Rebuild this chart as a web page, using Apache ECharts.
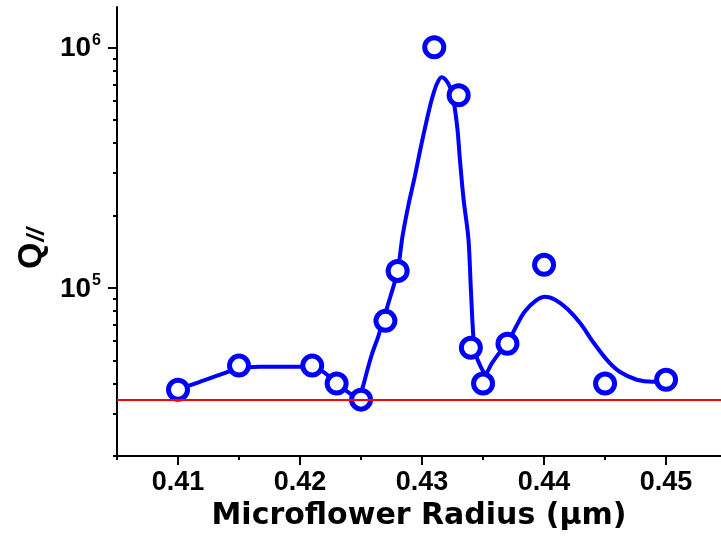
<!DOCTYPE html>
<html><head><meta charset="utf-8">
<script src="https://cdn.jsdelivr.net/npm/echarts@6/dist/echarts.min.js"></script>
<style>html,body{margin:0;padding:0;background:#fff}#c{width:721px;height:537px}</style>
</head><body><div id="c"></div>
<script>
const radius = [0.41,0.415,0.421,0.423,0.425,0.427,0.428,0.431,0.433,0.434,0.435,0.437,0.44,0.445,0.45];
const qValues = [37700,47500,47500,40000,34300,72900,117600,1000000,632000,56400,40000,58600,124600,40000,41500];
const fitRadius = [0.41,0.4118,0.4134,0.4149,0.4167,0.4192,0.421,0.4221,0.423,0.424,0.42475,0.4251,0.4255,0.4259,0.4264,0.4268,0.4274,0.428,0.4284,0.4289,0.4294,0.4299,0.4304,0.4308,0.4312,0.4316,0.4319,0.4323,0.4326,0.4329,0.4331,0.4334,0.4338,0.434,0.4342,0.4344,0.4348,0.4352,0.4357,0.4364,0.4371,0.4377,0.4384,0.4393,0.4401,0.4409,0.4419,0.443,0.444,0.4452,0.4462,0.4476,0.4489,0.45];
const fitQ = [37700,40700,43500,46100,47000,47000,47000,44000,40000,36700,34600,38100,45200,53200,62600,72900,91800,117600,164000,223000,289000,385000,502000,608000,702000,751000,736000,682000,591000,457000,343000,234000,160000,99000,63200,53200,47000,44000,48400,54300,60300,68900,79500,88300,91800,89200,81800,70900,59700,49800,44800,41500,40700,41100];
const threshold = 34300;
const xTickValues = [0.41,0.42,0.43,0.44,0.45];
const xMinorTickValues = [0.405,0.415,0.425,0.435,0.445];
const yTickValues = [100000,1000000];
const yMinorTickValues = [20000,30000,40000,50000,60000,70000,80000,90000,200000,300000,400000,500000,600000,700000,800000,900000];
const xTitle = 'Microflower Radius (\u03bcm)';

const FONT = "'Liberation Sans', Arial, sans-serif";
const X_MIN = 0.405, X_MAX = 0.4545, Y_MIN = 20000, Y_MAX = 1470000;
const axisColor = '#000';

const chart = echarts.init(document.getElementById('c'), null, {renderer: 'canvas'});
chart.setOption({
  animation: false,
  backgroundColor: '#fff',
  grid: {left: 117, right: 0, top: 7, bottom: 81, containLabel: false},
  xAxis: [{
    type: 'value', min: X_MIN, max: X_MAX, position: 'bottom',
    axisLine: {show: true, onZero: false, lineStyle: {color: axisColor, width: 2}},
    axisTick: {show: true, customValues: xTickValues, length: 9, lineStyle: {color: axisColor, width: 2}},
    axisLabel: {customValues: xTickValues, formatter: v => v.toFixed(2), fontSize: 27, fontWeight: 'bold', fontFamily: FONT, color: '#000', margin: 13},
    splitLine: {show: false},
    name: xTitle, nameLocation: 'middle', nameGap: 43,
    nameTextStyle: {fontSize: 30, fontWeight: 'bold', fontFamily: "'DejaVu Sans', sans-serif", color: '#000'}
  }, {
    type: 'value', min: X_MIN, max: X_MAX, position: 'bottom',
    axisLine: {show: false, onZero: false},
    axisTick: {show: true, customValues: xMinorTickValues, length: 4, lineStyle: {color: axisColor, width: 2}},
    axisLabel: {show: false},
    splitLine: {show: false}
  }],
  yAxis: [{
    type: 'log', logBase: 10, min: Y_MIN, max: Y_MAX, position: 'left',
    axisLine: {show: true, onZero: false, lineStyle: {color: axisColor, width: 2}},
    axisTick: {show: true, customValues: yTickValues, length: 9, lineStyle: {color: axisColor, width: 2}},
    axisLabel: {
      customValues: yTickValues, margin: 16, color: '#000',
      formatter: v => '{b|10}{s|' + Math.round(Math.log10(v)) + '}',
      rich: {
        b: {fontSize: 28, fontWeight: 'bold', fontFamily: FONT, color: '#000', verticalAlign: 'bottom', lineHeight: 30},
        s: {fontSize: 16, fontWeight: 'bold', fontFamily: FONT, color: '#000', verticalAlign: 'top', lineHeight: 16, padding: [0, 0, 0, 1]}
      }
    },
    splitLine: {show: false},
    name: '{q|Q}{s|//}', nameLocation: 'middle', nameRotate: 90, nameGap: 63,
    nameTextStyle: {
      padding: [0, 34, 0, 0],
      rich: {
        q: {fontSize: 34, fontWeight: 'bold', fontFamily: FONT, color: '#000', verticalAlign: 'top', lineHeight: 34},
        s: {fontSize: 24, fontWeight: 'bold', fontStyle: 'italic', fontFamily: FONT, color: '#000', verticalAlign: 'bottom', lineHeight: 24, padding: [9, 0, 0, 1]}
      }
    }
  }, {
    type: 'log', logBase: 10, min: Y_MIN, max: Y_MAX, position: 'left',
    axisLine: {show: false, onZero: false},
    axisTick: {show: true, customValues: yMinorTickValues, length: 4, lineStyle: {color: axisColor, width: 2}},
    axisLabel: {show: false},
    splitLine: {show: false}
  }],
  series: [{
    type: 'line', name: 'fit', xAxisIndex: 0, yAxisIndex: 0,
    data: fitRadius.map((x, i) => [x, fitQ[i]]),
    smooth: 0.3, showSymbol: false, symbol: 'none',
    lineStyle: {color: '#0000ff', width: 4}, z: 2
  }, {
    type: 'scatter', name: 'data', xAxisIndex: 0, yAxisIndex: 0,
    data: radius.map((x, i) => [x, qValues[i]]),
    symbol: 'circle', symbolSize: 19,
    itemStyle: {color: '#ffffff', borderColor: '#0000ff', borderWidth: 5, opacity: 1},
    z: 3,
    markLine: {
      silent: true, symbol: ['none', 'none'], label: {show: false},
      lineStyle: {color: '#ff0000', width: 2, type: 'solid'},
      emphasis: {disabled: true},
      data: [{yAxis: threshold}]
    }
  }]
});
</script></body></html>
